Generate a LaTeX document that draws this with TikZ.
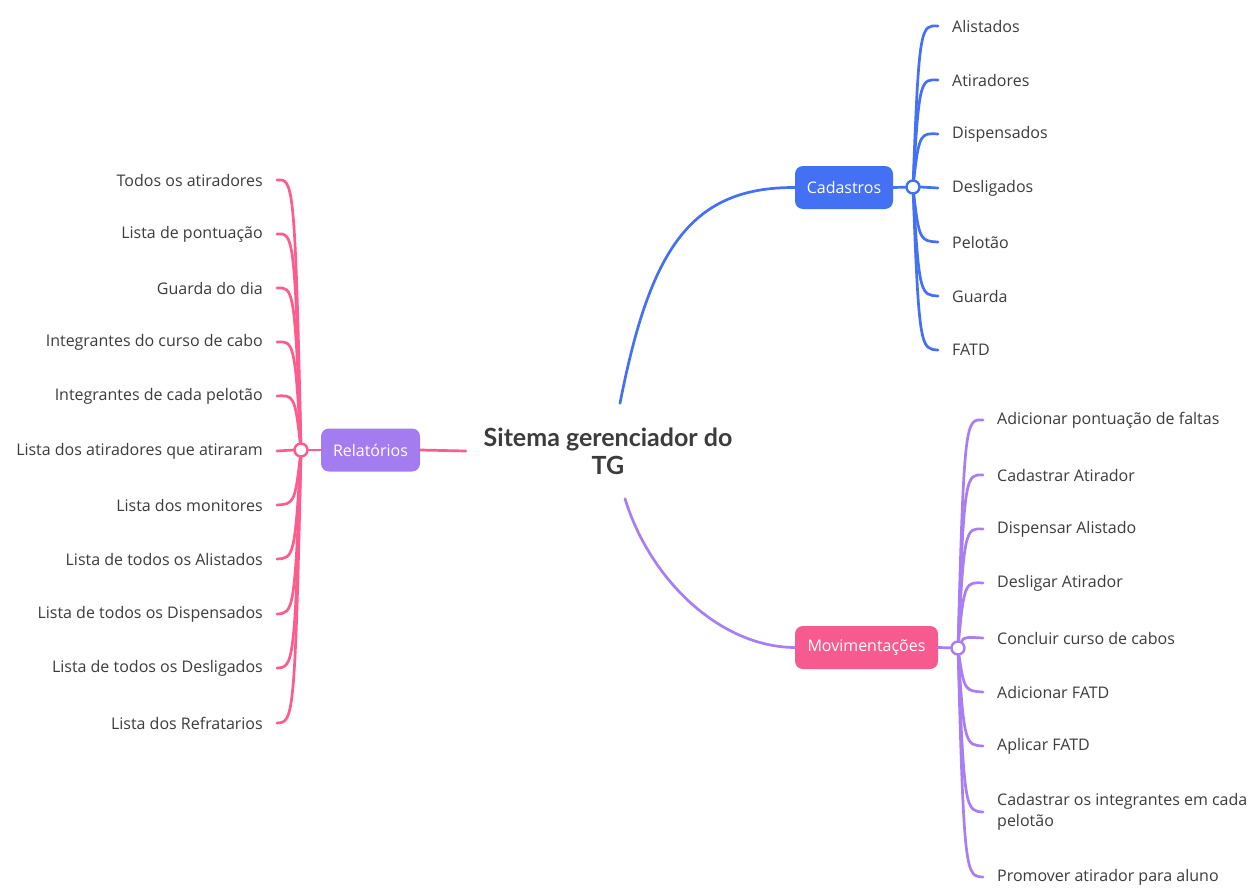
\documentclass[tikz,border=0pt]{standalone}
\usepackage{fontspec}
\setmainfont{Open Sans}
\newfontfamily\titlefont{Lato}
\definecolor{cblue}{HTML}{4470F4}
\definecolor{boxpurple}{HTML}{A37CF0}
\definecolor{boxpink}{HTML}{F75A8E}
\definecolor{linepink}{HTML}{FF5C8E}
\definecolor{linepurple}{HTML}{A97DF3}
\definecolor{txt}{HTML}{3C3C3C}
\begin{document}
\begin{tikzpicture}[x=1pt,y=-1pt,
  every node/.style={font=\fontsize{16}{21}\selectfont, text=txt},
  box/.style={rounded corners=8pt, minimum height=43pt, inner xsep=0pt, inner ysep=0pt, text=white},
  hub/.style={circle, draw, fill=white, line width=2.4pt, minimum size=13pt, inner sep=0pt},
  leafR/.style={anchor=west, inner xsep=14pt, inner ysep=2pt, align=left},
  leafL/.style={anchor=east, inner xsep=14pt, inner ysep=2pt, align=right},
  link/.style={line width=2.7pt, line cap=round}
]
\useasboundingbox[fill=white] (0,0) rectangle (1256,894);

% central topic
\node[font=\titlefont\bfseries\fontsize{25}{28}\selectfont, text=txt, align=center,
      minimum width=284pt, minimum height=95pt, inner sep=0pt] (title) at (608,451)
      {Sitema gerenciador do\\TG};

% main topics
\node[box, fill=cblue, minimum width=98pt] (cad) at (844,187.5) {Cadastros};
\node[box, fill=boxpurple, minimum width=99pt] (rel) at (370.5,450) {Relatórios};
\node[box, fill=boxpink, minimum width=143pt] (mov) at (866.5,647.5) {Movimentações};

% hubs
\node[hub, draw=cblue] (chub) at (913,187) {};
\node[hub, draw=linepink] (rhub) at (301,450) {};
\node[hub, draw=linepurple] (mhub) at (958,648) {};

% main connectors
\draw[link, cblue] ([xshift=12pt]title.north) .. controls (650,250) and (690,187) .. (cad.west);
\draw[link, linepurple] ([xshift=17pt]title.south) .. controls (650,580) and (720,647) .. (mov.west);
\draw[link, linepink] (title.west) -- (rel.east);
\draw[link, linepink] (rel.west) -- (rhub);
\draw[link, cblue] (cad.east) -- (chub);
\draw[link, linepurple] (mov.east) -- (mhub);

% Cadastros leaves
\foreach \n/\t/\y in {c1/Alistados/25, c2/Atiradores/79, c3/Dispensados/133, c4/Desligados/187,
                      c5/Pelotão/241, c6/Guarda/295, c7/FATD/349}{
  \node[leafR] (\n) at (938,\y+1) {\t};
  \draw[link, cblue] (chub) .. controls (919,\y) and (921,\y) .. (\n.west);
}

% Relatorios leaves
\foreach \n/\t/\y in {r1/Todos os atiradores/179, r2/Lista de pontuação/233, r3/Guarda do dia/287,
                      r4/Integrantes do curso de cabo/341, r5/Integrantes de cada pelotão/395,
                      r6/Lista dos atiradores que atiraram/450, r7/Lista dos monitores/504,
                      r8/Lista de todos os Alistados/558, r9/Lista de todos os Dispensados/613,
                      r10/Lista de todos os Desligados/667, r11/Lista dos Refratarios/722}{
  \node[leafL] (\n) at (277,\y+1) {\t};
  \draw[link, linepink] (rhub) .. controls (295,\y) and (293,\y) .. (\n.east);
}

% Movimentacoes leaves
\foreach \n/\t/\y in {m1/Adicionar pontuação de faltas/419, m2/Cadastrar Atirador/474,
                      m3/Dispensar Alistado/528, m4/Desligar Atirador/582,
                      m5/Concluir curso de cabos/637, m6/Adicionar FATD/691, m7/Aplicar FATD/745,
                      m8/{Cadastrar os integrantes em cada\\pelotão}/811,
                      m9/Promover atirador para aluno/876}{
  \node[leafR] (\n) at (983,\y+1) {\t};
  \draw[link, linepurple] (mhub) .. controls (964,\y) and (966,\y) .. (\n.west);
}
\end{tikzpicture}
\end{document}
